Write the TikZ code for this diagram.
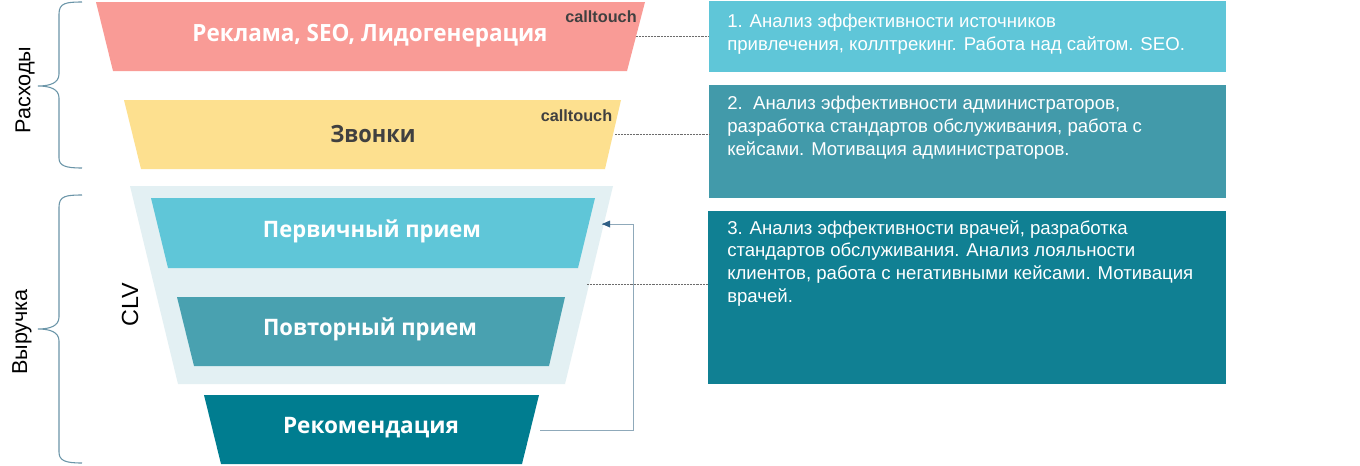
\documentclass[tikz,border=0pt]{standalone}
\usepackage{fontspec}
\setmainfont{Liberation Sans}
\newfontfamily\funnelfont{Open Sans}
\definecolor{cRed}{HTML}{F99B96}
\definecolor{cYel}{HTML}{FDE08F}
\definecolor{cPale}{HTML}{E3F0F3}
\definecolor{cA}{HTML}{5FC6D8}
\definecolor{cB}{HTML}{49A1B0}
\definecolor{cC}{HTML}{007D90}
\definecolor{cBoxB}{HTML}{429AAA}
\definecolor{cBoxC}{HTML}{108093}
\definecolor{cDark}{HTML}{404040}
\definecolor{cBrace}{HTML}{6A95A8}
\definecolor{cArrow}{HTML}{8FA9BA}
\definecolor{cHead}{HTML}{2F5F85}
\tikzset{
  x=0.75pt,y=-0.75pt,
  ftext/.style={font=\funnelfont\fontsize{#1}{#1}\selectfont\bfseries,text=white,inner sep=0pt},
  dtext/.style={font=\fontsize{13.95}{17}\selectfont,text=white,align=left,anchor=north west,inner sep=0pt},
  ctext/.style={font=\fontsize{12.2}{14}\selectfont\bfseries,text=cDark,inner sep=0pt},
  rtext/.style={font=\fontsize{16.2}{18}\selectfont,text=black,rotate=90,inner sep=0pt},
  dotline/.style={draw=gray!85!black,line width=0.5pt,dash pattern=on 0.6pt off 0.5pt},
  bracel/.style={draw=cBrace,line width=0.8pt},
  loopline/.style={draw=cArrow,line width=0.6pt},
}
\begin{document}
\begin{tikzpicture}
\useasboundingbox (0,0) rectangle (1360,465);
\fill[white] (0,0) rectangle (1360,465);
% funnel
\fill[cRed] (96,2) -- (645,2) -- (627,71) -- (113,71) -- cycle;
\fill[cYel] (124,100) -- (621,100) -- (605,169) -- (141,169) -- cycle;
\fill[cPale] (130,186) -- (613,186) -- (565,384) -- (178,384) -- cycle;
\fill[cA] (151,198) -- (595,198) -- (578,268) -- (168,268) -- cycle;
\fill[cB] (177,297) -- (565,297) -- (549,366) -- (194,366) -- cycle;
\fill[cC] (204,395) -- (539,395) -- (522,464) -- (221,464) -- cycle;
\node[ftext=17.8] (ad) at (370,35.5) {\scalebox{0.947}[1]{Реклама, SEO, Лидогенерация}};
\node[ftext=17.8,text=cDark] (calls) at (373,134) {\scalebox{0.92}[1]{Звонки}};
\node[ftext=17] (first) at (372,231) {\scalebox{0.97}[1]{Первичный прием}};
\node[ftext=17] (second) at (370,329) {\scalebox{0.97}[1]{Повторный прием}};
\node[ftext=17] (rec) at (371,427.5) {\scalebox{0.995}[1]{Рекомендация}};
\node[ctext] (ct1) at (601,17) {calltouch};
\node[ctext] (ct2) at (576.5,116) {calltouch};
% right boxes
\fill[cA] (709,1) rectangle (1226,72);
\fill[cBoxB] (709,85) rectangle (1226,198);
\fill[cBoxC] (708,211) rectangle (1226,384);
\node[dtext] (t1) at (727,14) {1. Анализ эффективности источников\\привлечения, коллтрекинг. Работа над сайтом. SEO.};
\node[dtext] (t2) at (727,96) {2.\ \ Анализ эффективности администраторов,\\разработка стандартов обслуживания, работа с\\кейсами. Мотивация администраторов.};
\node[dtext] (t3) at (727,220) {3. Анализ эффективности врачей, разработка\\стандартов обслуживания. Анализ лояльности\\клиентов, работа с негативными кейсами. Мотивация\\врачей.};
% connectors
\coordinate (a1) at (636,36); \coordinate (b1) at (709,36);
\coordinate (a2) at (615,134); \coordinate (b2) at (709,134);
\coordinate (a3) at (587,284); \coordinate (b3) at (708,284);
\draw[dotline] (a1) -- (b1);
\draw[dotline] (a2) -- (b2);
\draw[dotline] (a3) -- (b3);
\coordinate (r0) at (540,430); \coordinate (r1) at (633,430);
\coordinate (r2) at (633,224); \coordinate (r3) at (602,224);
\draw[loopline] (r0) -- (r1) -- (r2) -- (r3);
\fill[cHead] (r3) -- ++(8,-3.5) -- ++(0,7) -- cycle;
% braces
\draw[bracel] (82,2) .. controls (66,2) and (59,3) .. (59,14) -- (59,74) .. controls (59,83) and (50,86) .. (38,86) .. controls (50,86) and (59,89) .. (59,98) -- (59,158) .. controls (59,166) and (66,168) .. (82,168);
\draw[bracel] (82,195) .. controls (66,195) and (59,196) .. (59,207) -- (59,317) .. controls (59,326) and (50,329) .. (38,329) .. controls (50,329) and (59,332) .. (59,341) -- (59,452) .. controls (59,461) and (66,463) .. (82,463);
\node[rtext] (rash) at (25,90) {Расходы};
\node[rtext] (vyr) at (22,332) {Выручка};
\node[rtext,font=\fontsize{17.5}{18}\selectfont] (clv) at (130,305) {CLV};
\end{tikzpicture}
\end{document}
